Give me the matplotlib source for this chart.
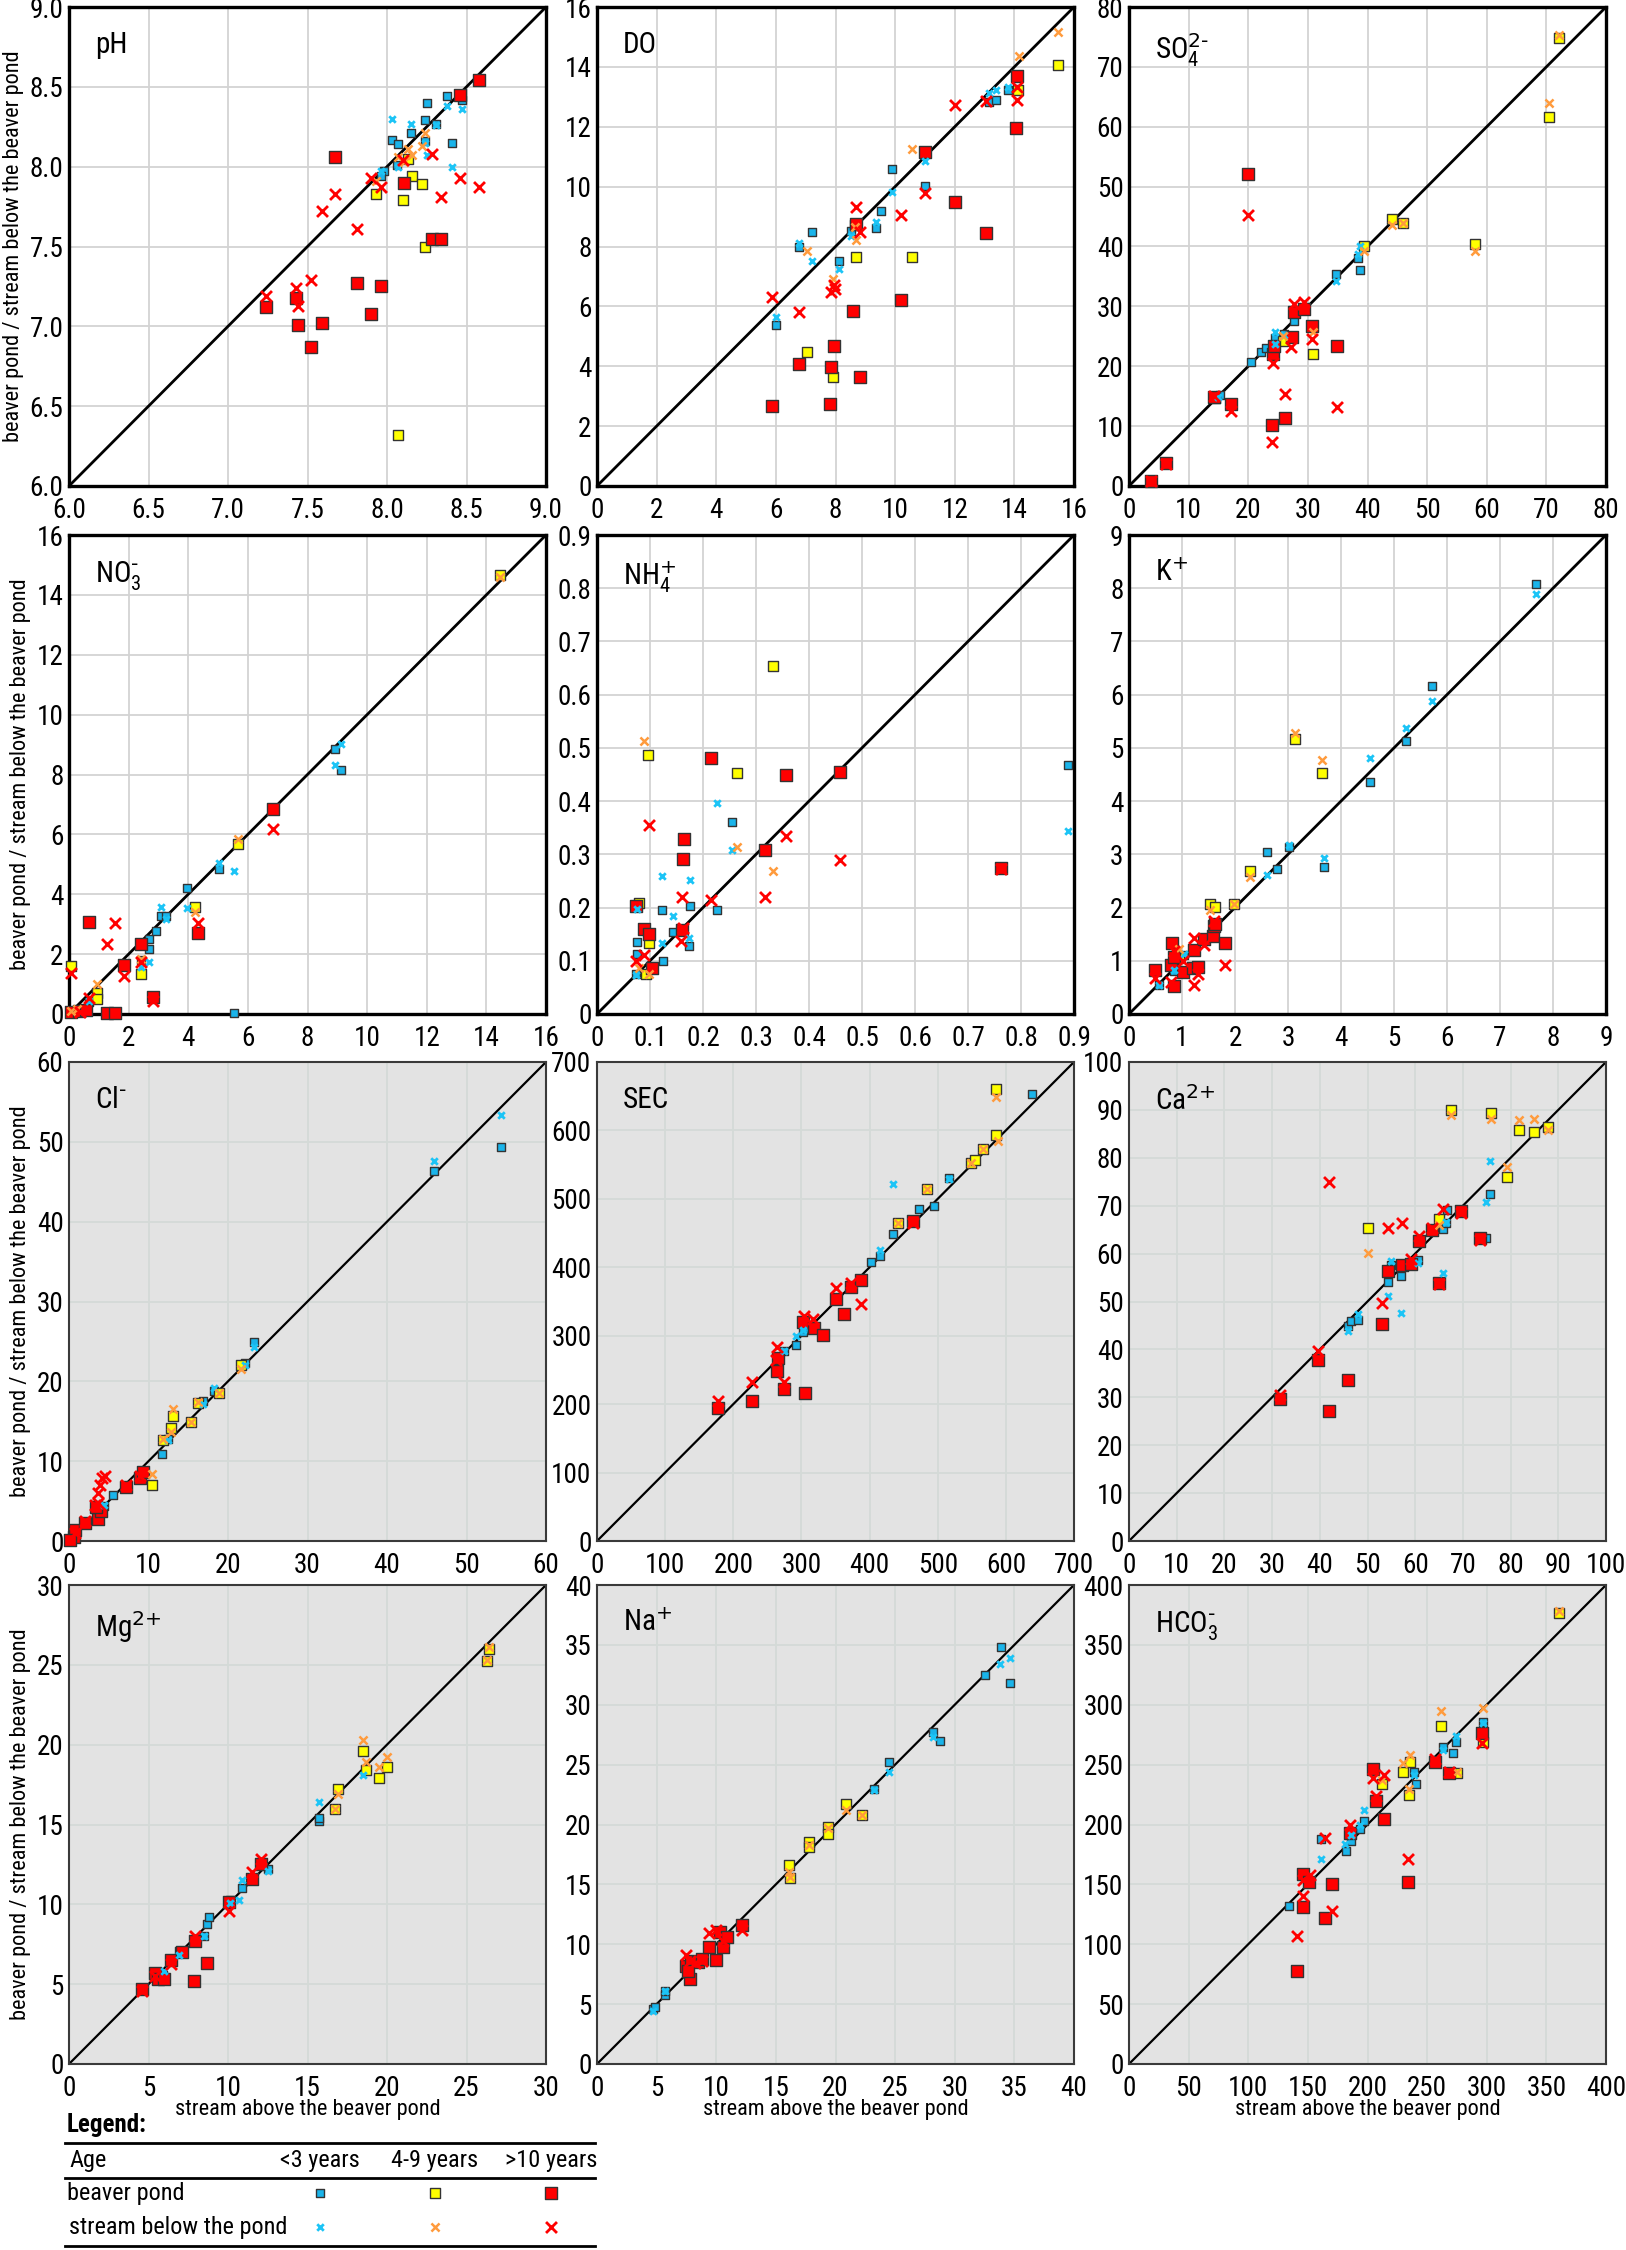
import numpy as np
import matplotlib
matplotlib.use('Agg')
import matplotlib.pyplot as plt

plt.rcParams['font.family'] = ['Liberation Sans Narrow', 'Roboto Condensed', 'Liberation Sans', 'DejaVu Sans']

# ---- data: (stream above, beaver pond / stream below) ----
# pond = beaver pond, below = stream below the pond; young <3 y, mid 4-9 y, old >10 y
PH_POND_YOUNG = [(8.38, 8.44), (8.47, 8.42), (8.25, 8.40), (8.24, 8.29), (8.31, 8.27), (8.03, 8.17),
                 (8.15, 8.21), (8.07, 8.14), (8.41, 8.15), (8.24, 8.16), (7.98, 7.97), (7.96, 7.94), (8.06, 8.01)]
PH_POND_MID = [(8.16, 7.94), (8.22, 7.89), (7.93, 7.83), (8.10, 7.79), (8.24, 7.50), (8.07, 6.32), (8.13, 8.05)]
PH_POND_OLD = [(8.58, 8.54), (8.46, 8.45), (7.67, 8.06), (8.11, 7.90), (8.28, 7.55), (8.34, 7.55), (7.81, 7.27),
               (7.96, 7.25), (7.43, 7.18), (7.24, 7.12), (7.90, 7.08), (7.44, 7.01), (7.59, 7.02), (7.52, 6.87)]
PH_BELOW_YOUNG = [(8.03, 8.30), (8.15, 8.27), (8.38, 8.38), (8.47, 8.36), (8.31, 8.26), (8.24, 8.15),
                  (8.25, 8.07), (8.41, 8.00), (8.07, 8.00), (7.96, 7.97)]
PH_BELOW_MID = [(8.24, 8.21), (8.22, 8.13), (8.13, 8.11), (8.07, 8.06), (8.16, 8.07), (8.11, 8.03), (7.93, 7.91)]
PH_BELOW_OLD = [(8.28, 8.08), (8.46, 7.93), (8.58, 7.87), (8.34, 7.81), (7.90, 7.93), (7.96, 7.87), (7.67, 7.83),
                (7.59, 7.72), (7.81, 7.61), (7.52, 7.29), (7.43, 7.24), (7.24, 7.19), (7.44, 7.13), (8.10, 8.04)]

DO_POND_YOUNG = [(5.99, 5.37), (6.78, 7.99), (7.22, 8.49), (8.13, 7.50), (8.51, 8.53), (9.35, 8.61), (9.52, 9.20),
                 (9.89, 10.59), (10.99, 10.03), (13.15, 12.82), (13.38, 12.91), (13.79, 13.23)]
DO_POND_MID = [(7.04, 4.48), (7.93, 3.65), (8.70, 7.64), (10.56, 7.64), (8.66, 8.72), (14.13, 13.24), (15.48, 14.07)]
DO_POND_OLD = [(5.86, 2.68), (6.78, 4.07), (7.95, 4.68), (7.85, 3.96), (7.82, 2.75), (8.82, 3.65), (8.60, 5.85),
               (10.20, 6.21), (12.02, 9.50), (13.06, 8.44), (10.99, 11.17), (14.10, 13.68), (14.06, 11.96), (8.68, 8.75)]
DO_BELOW_YOUNG = [(5.99, 5.63), (6.78, 8.12), (7.22, 7.50), (8.13, 7.25), (8.51, 8.36), (9.35, 8.81), (9.89, 9.81),
                  (10.99, 10.85), (13.15, 13.13), (13.38, 13.24), (13.79, 13.32)]
DO_BELOW_MID = [(7.04, 7.86), (7.93, 6.93), (8.70, 8.22), (10.56, 11.26), (8.66, 8.66), (14.16, 14.35), (15.48, 15.18)]
DO_BELOW_OLD = [(5.86, 6.32), (6.78, 5.80), (7.85, 6.47), (7.95, 6.71), (7.99, 6.58), (8.70, 9.31), (8.82, 8.47),
                (10.20, 9.06), (10.99, 9.79), (12.02, 12.71), (13.06, 12.85), (14.10, 13.32), (14.10, 12.88)]

SO4_POND_YOUNG = [(14.6, 14.6), (15.3, 15.2), (20.5, 20.7), (22.1, 22.3), (22.9, 23.1), (24.5, 24.8), (26.0, 25.4),
                  (27.7, 27.6), (34.8, 35.4), (38.4, 38.0), (38.8, 36.1)]
SO4_POND_MID = [(25.9, 24.3), (30.9, 22.1), (39.4, 40.1), (44.1, 44.6), (45.9, 44.0), (58.0, 40.5), (70.4, 61.6),
                (72.1, 74.8)]
SO4_POND_OLD = [(3.7, 0.9), (6.2, 3.9), (14.2, 14.8), (17.1, 13.7), (19.9, 52.1), (23.9, 10.2), (26.2, 11.3),
                (24.1, 22.1), (24.3, 23.4), (27.3, 24.9), (27.7, 29.0), (29.4, 29.6), (30.7, 26.8), (34.9, 23.3)]
SO4_BELOW_YOUNG = [(15.0, 14.8), (24.5, 25.8), (24.5, 23.7), (26.0, 25.2), (34.8, 34.3), (38.7, 40.1), (38.4, 38.7)]
SO4_BELOW_MID = [(25.9, 25.1), (30.9, 25.8), (39.4, 39.2), (44.1, 43.6), (45.9, 44.0), (58.0, 39.3), (70.4, 64.0),
                 (72.1, 75.4)]
SO4_BELOW_OLD = [(3.7, 0.9), (6.2, 3.6), (14.2, 15.1), (17.1, 12.6), (19.9, 45.2), (23.9, 7.4), (26.2, 15.4),
                 (24.1, 20.6), (27.2, 23.2), (27.7, 30.4), (29.3, 30.7), (30.7, 24.6), (34.9, 13.2)]

NO3_POND_YOUNG = [(0.68, 0.39), (2.69, 2.51), (2.69, 2.17), (2.93, 2.76), (2.41, 1.81), (3.09, 3.27), (3.25, 3.27),
                  (3.96, 4.20), (5.04, 4.83), (5.54, 0.03), (8.92, 8.86), (9.13, 8.16)]
NO3_POND_MID = [(0.08, 1.62), (0.94, 0.69), (0.94, 0.50), (2.41, 1.34), (4.23, 3.57), (5.66, 5.69), (14.45, 14.66)]
NO3_POND_OLD = [(0.68, 3.07), (1.85, 1.64), (2.41, 2.34), (2.83, 0.58), (4.32, 2.71), (6.83, 6.86), (1.28, 0.02),
                (1.54, 0.02), (0.08, 0.06), (0.32, 0.09), (0.56, 0.13)]
NO3_BELOW_YOUNG = [(0.68, 0.45), (3.09, 3.57), (3.25, 3.18), (3.96, 3.53), (2.41, 1.56), (2.69, 1.75), (5.04, 5.04),
                   (5.54, 4.79), (8.92, 8.31), (9.13, 9.03)]
NO3_BELOW_MID = [(0.08, 0.11), (0.26, 0.17), (0.94, 1.00), (2.41, 1.84), (4.23, 3.40), (5.66, 5.85), (14.45, 14.60)]
NO3_BELOW_OLD = [(0.08, 1.37), (0.68, 0.54), (1.28, 2.34), (1.54, 3.03), (1.85, 1.28), (2.41, 1.75), (2.83, 0.45),
                 (4.32, 3.03), (6.83, 6.19), (0.38, 0.06)]

NH4_POND_YOUNG = [(0.075, 0.135), (0.075, 0.113), (0.122, 0.195), (0.124, 0.100), (0.144, 0.155), (0.176, 0.203),
                  (0.174, 0.128), (0.227, 0.195), (0.254, 0.361), (0.888, 0.468), (0.073, 0.076)]
NH4_POND_MID = [(0.080, 0.209), (0.096, 0.486), (0.098, 0.134), (0.264, 0.452), (0.333, 0.654), (0.092, 0.076)]
NH4_POND_OLD = [(0.073, 0.202), (0.088, 0.159), (0.099, 0.150), (0.103, 0.087), (0.164, 0.329), (0.162, 0.291),
                (0.161, 0.157), (0.215, 0.481), (0.317, 0.308), (0.356, 0.450), (0.459, 0.454), (0.762, 0.275)]
NH4_BELOW_YOUNG = [(0.075, 0.197), (0.073, 0.074), (0.122, 0.259), (0.123, 0.134), (0.144, 0.184), (0.176, 0.252),
                   (0.174, 0.143), (0.227, 0.396), (0.254, 0.308), (0.888, 0.344)]
NH4_BELOW_MID = [(0.088, 0.513), (0.264, 0.313), (0.333, 0.269), (0.079, 0.087), (0.098, 0.076)]
NH4_BELOW_OLD = [(0.073, 0.099), (0.088, 0.111), (0.099, 0.355), (0.161, 0.220), (0.159, 0.137), (0.215, 0.214),
                 (0.317, 0.219), (0.356, 0.335), (0.459, 0.289), (0.762, 0.273), (0.163, 0.161)]

K_POND_YOUNG = [(0.56, 0.55), (1.03, 1.10), (2.61, 3.05), (2.80, 2.73), (3.02, 3.14), (3.68, 2.76), (4.55, 4.36),
                (5.23, 5.13), (5.72, 6.16), (7.68, 8.08), (0.85, 0.80)]
K_POND_MID = [(1.52, 2.07), (1.63, 2.01), (1.99, 2.06), (2.28, 2.69), (3.14, 5.16), (3.64, 4.53), (0.95, 1.05)]
K_POND_OLD = [(0.49, 0.83), (0.79, 0.93), (0.82, 1.33), (0.84, 1.08), (0.85, 0.52), (1.01, 0.79), (1.22, 1.21),
              (1.20, 0.86), (1.31, 0.88), (1.42, 1.40), (1.58, 1.46), (1.60, 1.66), (1.63, 1.69), (1.82, 1.33)]
K_BELOW_YOUNG = [(0.56, 0.54), (1.03, 1.12), (0.85, 0.83), (2.61, 2.62), (3.02, 3.17), (3.68, 2.93), (4.55, 4.81),
                 (5.23, 5.38), (5.72, 5.88), (7.68, 7.89)]
K_BELOW_MID = [(0.95, 1.23), (1.52, 1.96), (1.99, 2.06), (2.28, 2.57), (3.14, 5.28), (3.64, 4.78)]
K_BELOW_OLD = [(0.49, 0.68), (0.79, 0.61), (0.84, 1.18), (1.22, 1.43), (1.22, 0.54), (1.31, 0.76), (1.42, 1.30),
               (1.60, 1.75), (1.82, 0.93), (1.01, 0.99)]

CL_POND_YOUNG = [(45.9, 46.3), (54.4, 49.3), (23.3, 24.9), (22.2, 22.3), (16.9, 17.5), (18.3, 18.8), (12.5, 12.8),
                 (11.7, 10.9), (5.5, 5.8), (4.2, 3.9), (4.4, 4.4)]
CL_POND_MID = [(10.5, 7.0), (11.8, 12.6), (12.8, 14.1), (13.1, 15.6), (15.3, 14.9), (16.2, 17.3), (18.9, 18.6),
               (21.6, 22.1)]
CL_POND_OLD = [(0.6, 0.5), (0.8, 1.4), (2.0, 2.3), (3.7, 2.8), (4.0, 3.7), (3.4, 4.3), (7.2, 6.8), (8.9, 7.9),
               (9.3, 8.7), (0.1, 0.1)]
CL_BELOW_YOUNG = [(45.9, 47.6), (54.4, 53.4), (23.3, 24.3), (22.2, 22.0), (16.9, 17.2), (18.3, 19.2), (12.5, 12.6),
                  (4.4, 4.5)]
CL_BELOW_MID = [(10.5, 8.4), (11.8, 12.8), (12.8, 13.7), (13.1, 16.5), (15.3, 14.9), (16.2, 17.4), (18.9, 18.6),
                (21.6, 21.5)]
CL_BELOW_OLD = [(3.7, 4.7), (3.7, 6.0), (3.9, 7.0), (4.2, 7.9), (4.5, 8.1), (3.3, 4.5), (2.0, 2.5), (0.8, 1.0),
                (8.9, 8.1), (7.2, 7.0)]

SEC_POND_YOUNG = [(274, 278), (292, 286), (302, 305), (307, 312), (402, 408), (415, 416), (434, 448), (473, 485),
                  (494, 490), (517, 531), (638, 653)]
SEC_POND_MID = [(441, 465), (485, 514), (549, 552), (555, 557), (566, 573), (585, 593), (585, 661)]
SEC_POND_OLD = [(178, 195), (227, 205), (264, 249), (265, 267), (275, 222), (305, 216), (302, 320), (319, 312),
                (332, 301), (350, 354), (363, 332), (373, 371), (388, 381), (463, 468)]
SEC_BELOW_YOUNG = [(274, 278), (292, 299), (302, 309), (415, 425), (434, 521), (517, 529)]
SEC_BELOW_MID = [(441, 465), (485, 514), (549, 552), (566, 573), (585, 649), (588, 585)]
SEC_BELOW_OLD = [(178, 204), (227, 232), (264, 284), (275, 232), (304, 329), (317, 325), (350, 369), (373, 377),
                 (388, 347), (463, 464), (263, 265)]

CA_POND_YOUNG = [(45.9, 44.8), (46.6, 45.9), (48.0, 46.2), (54.3, 54.1), (55.0, 57.6), (57.0, 55.4), (60.6, 58.7),
                 (65.9, 65.1), (66.4, 66.3), (66.6, 69.1), (74.8, 63.2), (75.6, 72.4)]
CA_POND_MID = [(50.0, 65.4), (65.0, 67.2), (67.5, 89.9), (75.8, 89.3), (79.3, 75.9), (81.7, 85.8), (84.9, 85.3),
               (87.8, 86.5)]
CA_POND_OLD = [(31.7, 29.7), (39.6, 37.8), (41.9, 27.2), (45.9, 33.7), (53.1, 45.3), (54.3, 56.4), (57.3, 57.6),
               (59.2, 57.9), (60.9, 62.6), (63.6, 64.9), (64.9, 53.9), (69.6, 68.9), (73.6, 63.2)]
CA_BELOW_YOUNG = [(45.9, 43.9), (48.0, 47.3), (54.3, 51.1), (55.0, 58.4), (57.0, 47.6), (60.6, 58.1), (65.9, 55.9),
                  (66.4, 66.5), (74.8, 70.8), (75.6, 79.3)]
CA_BELOW_MID = [(50.0, 60.2), (65.0, 65.9), (67.5, 89.0), (75.8, 88.1), (79.3, 78.0), (81.7, 87.8), (84.9, 88.0),
                (87.8, 85.7)]
CA_BELOW_OLD = [(31.7, 30.5), (39.6, 39.7), (41.9, 74.9), (53.1, 49.7), (54.2, 65.4), (57.3, 66.3), (59.2, 58.8),
                (60.9, 63.7), (63.6, 65.4), (65.9, 69.3), (64.9, 53.6), (69.6, 68.4), (73.6, 62.8)]

MG_POND_YOUNG = [(6.9, 7.1), (8.5, 8.0), (8.7, 8.75), (8.8, 9.2), (10.1, 10.3), (10.9, 11.0), (12.5, 12.2),
                 (15.7, 15.2), (15.7, 15.4), (5.9, 5.6)]
MG_POND_MID = [(16.7, 16.0), (16.9, 17.2), (18.5, 19.6), (18.7, 18.4), (19.5, 17.9), (20.0, 18.6), (26.3, 25.25),
               (26.4, 26.0)]
MG_POND_OLD = [(4.6, 4.7), (5.4, 5.7), (5.6, 5.3), (5.95, 5.3), (6.4, 6.5), (7.1, 7.0), (7.85, 5.2), (7.95, 7.7),
               (8.65, 6.35), (10.05, 10.15), (11.5, 11.6), (12.1, 12.5)]
MG_BELOW_YOUNG = [(5.95, 5.8), (6.9, 6.8), (8.5, 8.0), (10.9, 11.5), (10.7, 10.3), (10.1, 10.1), (12.5, 12.1),
                  (15.7, 16.4), (18.5, 18.1)]
MG_BELOW_MID = [(16.7, 16.0), (16.9, 16.9), (18.5, 20.3), (18.7, 18.9), (19.5, 18.6), (20.0, 19.2), (26.3, 25.3),
                (26.4, 26.1)]
MG_BELOW_OLD = [(5.4, 5.5), (6.4, 6.25), (7.95, 8.0), (10.05, 9.6), (11.5, 12.0), (12.1, 12.85), (4.6, 4.6)]

NA_POND_YOUNG = [(4.7, 4.6), (4.9, 4.8), (5.7, 5.8), (5.7, 6.1), (23.2, 23.0), (24.5, 25.2), (28.2, 27.7),
                 (28.8, 27.0), (32.5, 32.5), (33.9, 34.8), (34.6, 31.8)]
NA_POND_MID = [(16.1, 16.6), (16.2, 15.5), (17.8, 18.5), (17.8, 18.1), (19.4, 19.8), (19.4, 19.2), (20.9, 21.7),
               (22.2, 20.8)]
NA_POND_OLD = [(7.5, 8.2), (7.8, 7.1), (7.9, 8.6), (8.5, 8.5), (8.8, 8.8), (9.4, 9.8), (10.0, 8.7), (10.3, 11.0),
               (10.6, 9.8), (10.9, 10.6), (12.2, 11.6), (7.6, 7.8)]
NA_BELOW_YOUNG = [(4.7, 4.4), (5.7, 6.1), (23.2, 22.9), (24.5, 24.4), (28.2, 27.3), (33.8, 33.4), (34.6, 33.9)]
NA_BELOW_MID = [(16.1, 16.0), (17.8, 18.3), (19.4, 19.7), (20.9, 21.2), (22.2, 20.8), (16.2, 15.6)]
NA_BELOW_OLD = [(7.5, 9.1), (7.8, 8.6), (8.2, 8.4), (9.4, 10.9), (10.0, 11.2), (10.6, 10.3), (12.2, 11.2), (8.8, 8.6)]

HCO3_POND_YOUNG = [(134, 132), (161, 188), (182, 178), (186, 186), (194, 196), (197, 203), (239, 244), (241, 234),
                   (263, 265), (272, 260), (274, 269), (297, 286)]
HCO3_POND_MID = [(212, 234), (230, 244), (236, 252), (235, 225), (262, 282), (275, 243), (297, 269), (361, 377)]
HCO3_POND_OLD = [(141, 78), (146, 131), (146, 159), (151, 152), (164, 122), (170, 150), (185, 193), (205, 246),
                 (207, 220), (214, 205), (234, 152), (257, 252), (268, 243), (296, 276)]
HCO3_BELOW_YOUNG = [(161, 171), (181, 184), (186, 191), (194, 200), (197, 212), (239, 241), (263, 262), (274, 274),
                    (297, 285)]
HCO3_BELOW_MID = [(212, 237), (230, 251), (236, 258), (235, 230), (262, 295), (275, 244), (297, 297), (361, 378)]
HCO3_BELOW_OLD = [(141, 107), (146, 140), (146, 154), (152, 158), (164, 189), (170, 128), (185, 200), (205, 239),
                  (207, 224), (214, 241), (234, 171), (257, 255), (268, 244), (296, 268)]

# label, axis max, tick step, axis min, tick format, series
PANELS = [
    ('pH', 9.0, 0.5, 6.0, '{:.1f}', (PH_POND_YOUNG, PH_POND_MID, PH_POND_OLD, PH_BELOW_YOUNG, PH_BELOW_MID, PH_BELOW_OLD)),
    ('DO', 16, 2, 0, '{:g}', (DO_POND_YOUNG, DO_POND_MID, DO_POND_OLD, DO_BELOW_YOUNG, DO_BELOW_MID, DO_BELOW_OLD)),
    (r'$\mathregular{SO_4^{\text{2-}}}$', 80, 10, 0, '{:g}',
     (SO4_POND_YOUNG, SO4_POND_MID, SO4_POND_OLD, SO4_BELOW_YOUNG, SO4_BELOW_MID, SO4_BELOW_OLD)),
    (r'$\mathregular{NO_3^{\text{-}}}$', 16, 2, 0, '{:g}',
     (NO3_POND_YOUNG, NO3_POND_MID, NO3_POND_OLD, NO3_BELOW_YOUNG, NO3_BELOW_MID, NO3_BELOW_OLD)),
    (r'$\mathregular{NH_4^{\text{+}}}$', 0.9, 0.1, 0, '{:g}',
     (NH4_POND_YOUNG, NH4_POND_MID, NH4_POND_OLD, NH4_BELOW_YOUNG, NH4_BELOW_MID, NH4_BELOW_OLD)),
    (r'$\mathregular{K^{\text{+}}}$', 9, 1, 0, '{:g}',
     (K_POND_YOUNG, K_POND_MID, K_POND_OLD, K_BELOW_YOUNG, K_BELOW_MID, K_BELOW_OLD)),
    (r'$\mathregular{Cl^{\text{-}}}$', 60, 10, 0, '{:g}',
     (CL_POND_YOUNG, CL_POND_MID, CL_POND_OLD, CL_BELOW_YOUNG, CL_BELOW_MID, CL_BELOW_OLD)),
    ('SEC', 700, 100, 0, '{:g}', (SEC_POND_YOUNG, SEC_POND_MID, SEC_POND_OLD, SEC_BELOW_YOUNG, SEC_BELOW_MID, SEC_BELOW_OLD)),
    (r'$\mathregular{Ca^{\text{2+}}}$', 100, 10, 0, '{:g}',
     (CA_POND_YOUNG, CA_POND_MID, CA_POND_OLD, CA_BELOW_YOUNG, CA_BELOW_MID, CA_BELOW_OLD)),
    (r'$\mathregular{Mg^{\text{2+}}}$', 30, 5, 0, '{:g}',
     (MG_POND_YOUNG, MG_POND_MID, MG_POND_OLD, MG_BELOW_YOUNG, MG_BELOW_MID, MG_BELOW_OLD)),
    (r'$\mathregular{Na^{\text{+}}}$', 40, 5, 0, '{:g}',
     (NA_POND_YOUNG, NA_POND_MID, NA_POND_OLD, NA_BELOW_YOUNG, NA_BELOW_MID, NA_BELOW_OLD)),
    (r'$\mathregular{HCO_3^{\text{-}}}$', 400, 50, 0, '{:g}',
     (HCO3_POND_YOUNG, HCO3_POND_MID, HCO3_POND_OLD, HCO3_BELOW_YOUNG, HCO3_BELOW_MID, HCO3_BELOW_OLD)),
]

# marker styles for the six series
STYLES = [
    dict(marker='s', s=38, c='#1ab4ea', edgecolors='#333333', linewidths=1.0),
    dict(marker='s', s=46, c='#ffff00', edgecolors='#333333', linewidths=1.0),
    dict(marker='s', s=68, c='#ff0000', edgecolors='#333333', linewidths=1.0),
    dict(marker='x', s=22, c='#1cc4f6', linewidths=2.0),
    dict(marker='x', s=34, c='#ff9b3d', linewidths=1.8),
    dict(marker='x', s=62, c='#ff0000', linewidths=2.0),
]

W, H = 1626, 2250
COL_LEFT = [69, 597, 1129]
ROW_TOP = [7, 535, 1062, 1585]
AX_W, AX_H = 477, 479

fig = plt.figure(figsize=(W / 100, H / 100), dpi=100)

for i, (label, hi, step, lo, fmt, series) in enumerate(PANELS):
    row, col = divmod(i, 3)
    ax = fig.add_axes([COL_LEFT[col] / W, 1 - (ROW_TOP[row] + AX_H) / H, AX_W / W, AX_H / H])
    shaded = row >= 2
    ax.set_facecolor('#e3e3e3' if shaded else 'white')
    ticks = np.arange(lo, hi + step / 2, step)
    labels = ['0' if abs(t) < 1e-9 else fmt.format(round(t, 3)) for t in ticks]
    ax.set_xticks(ticks)
    ax.set_yticks(ticks)
    ax.set_xticklabels(labels)
    ax.set_yticklabels(labels)
    ax.set_xlim(lo, hi)
    ax.set_ylim(lo, hi)
    ax.grid(True, color='#d4dad7' if shaded else '#d3d3d3', lw=1.3)
    ax.set_axisbelow(True)
    ax.tick_params(length=0, labelsize=19.5)
    ax.tick_params(axis='x', pad=8)
    ax.tick_params(axis='y', pad=4)
    for sp in ax.spines.values():
        sp.set_linewidth(1.5 if shaded else 2.4)
        sp.set_color('#3a3a3a' if shaded else 'black')
    ax.plot([lo, hi], [lo, hi], color='black', lw=1.6 if shaded else 2.0, zorder=2)
    for pts, st in zip(series, STYLES):
        xs = [p[0] for p in pts]
        ys = [p[1] for p in pts]
        ax.scatter(xs, ys, zorder=3, clip_on=False, **st)
    ax.text(0.055, 0.95, label, transform=ax.transAxes, ha='left', va='top', fontsize=21)
    if col == 0:
        ax.set_ylabel('beaver pond / stream below the beaver pond', fontsize=16, labelpad=4)
    if row == 3:
        ax.set_xlabel('stream above the beaver pond', fontsize=16, labelpad=-2)

# legend table, drawn in pixel coordinates
lg = fig.add_axes([0, 0, 620 / W, 150 / H])
lg.set_xlim(0, 620)
lg.set_ylim(2250, 2100)
lg.axis('off')
lg.text(67, 2125, 'Legend:', fontsize=18, fontweight='bold', va='center', ha='left')
for yl in (2143, 2178, 2246):
    lg.plot([65, 595], [yl, yl], color='black', lw=2.0, clip_on=False)
lg.text(69, 2161, 'Age', fontsize=17.5, va='center', ha='left')
col_x = [320, 435, 551]
for cx, txt in zip(col_x, ['<3 years', '4-9 years', '>10 years']):
    lg.text(cx, 2161, txt, fontsize=17.5, va='center', ha='center')
lg.text(67, 2194, 'beaver pond', fontsize=17.5, va='center', ha='left')
lg.text(69, 2228, 'stream below the pond', fontsize=17.5, va='center', ha='left')
for k, cx in enumerate(col_x):
    lg.scatter([cx], [2193], clip_on=False, **STYLES[k])
    lg.scatter([cx], [2227], clip_on=False, **STYLES[k + 3])

fig.savefig('out.png', dpi=100)
